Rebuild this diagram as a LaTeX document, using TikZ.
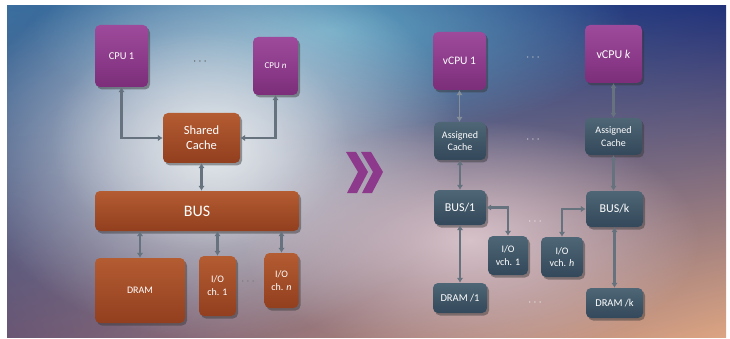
\documentclass[tikz,border=0pt]{standalone}
\usepackage{fontspec}
\setmainfont{Carlito}
\usetikzlibrary{arrows.meta,shadows,fadings,shadings}

\definecolor{cpuA}{HTML}{9E4A9C}
\definecolor{cpuB}{HTML}{7C2E7A}
\definecolor{brA}{HTML}{B45C32}
\definecolor{brB}{HTML}{923F1F}
\definecolor{slA}{HTML}{4E6676}
\definecolor{slB}{HTML}{33485A}
\definecolor{arrowc}{HTML}{66737F}
\definecolor{bgUL}{HTML}{3A6E9E}
\definecolor{bgUR}{HTML}{22337A}
\definecolor{bgLL}{HTML}{6A5674}
\definecolor{bgLR}{HTML}{DCA482}
\definecolor{glowTeal}{HTML}{62A4C2}
\definecolor{glowLight}{HTML}{E2E7EB}
\definecolor{glowPink}{HTML}{D8C2CA}
\definecolor{chev}{HTML}{8E3A8C}

\tikzfading[name=glowfade, inner color=transparent!0, outer color=transparent!100]

\tikzset{
  box/.style={rounded corners=5pt, inner sep=0pt, text=white, align=center,
    drop shadow={shadow xshift=2pt, shadow yshift=-2.5pt, opacity=0.45, fill=black!80}},
  cpubox/.style={box, top color=cpuA, bottom color=cpuB},
  brbox/.style={box, top color=brA, bottom color=brB},
  slbox/.style={box, top color=slA, bottom color=slB},
  arr/.style={draw=arrowc, line width=2.1pt,
    {Latex[length=5pt,width=6.5pt]}-{Latex[length=5pt,width=6.5pt]}},
  thinarr/.style={arr, line width=1.4pt, draw=arrowc!80},
  dotsnode/.style={inner sep=0pt, font=\fontsize{12}{12}\selectfont},
  fs/.style 2 args={font=\fontsize{#1}{#2}\selectfont}
}

\begin{document}
\begin{tikzpicture}[x=1pt,y=-1pt]
\useasboundingbox (0,0) rectangle (730,339);
\fill[white] (0,0) rectangle (730,339);
\begin{scope}
  \clip (7,6) rectangle (726,337);
  \shade[upper left=bgUL, upper right=bgUR, lower left=bgLL, lower right=bgLR] (7,6) rectangle (726,337);
  \fill[glowTeal, path fading=glowfade] (330,30) ellipse (300 and 110);
  \fill[glowLight, path fading=glowfade] (215,150) ellipse (250 and 190);
  \fill[glowPink, path fading=glowfade] (470,240) ellipse (230 and 120);
  \fill[glowLight, path fading=glowfade, opacity=0.6] (200,140) ellipse (150 and 110);
\end{scope}

% chevron
\fill[chev] (346,152) -- (356,152) -- (368,172) -- (357,193) -- (347,193) -- (358,172) -- cycle;
\fill[chev] (361,152) -- (371,152) -- (383,172) -- (372,193) -- (362,193) -- (373,172) -- cycle;

% left side
\node[cpubox, minimum width=53pt, minimum height=62pt, fs={10.5}{12}] (cpu1) at (121.5,56) {CPU 1};
\node[cpubox, minimum width=45pt, minimum height=58pt, fs={9}{10}] (cpun) at (275.5,66) {CPU \textit{n}};
\node[dotsnode, text=black!70] (dl1) at (200,62) {$\cdots$};
\node[brbox, minimum width=77pt, minimum height=50pt, fs={12.5}{15}] (cache) at (201.5,138) {Shared\\Cache};
\node[brbox, minimum width=204pt, minimum height=40pt, fs={16}{18}] (bus) at (197,211) {BUS};
\node[brbox, minimum width=90pt, minimum height=65pt, fs={10}{12}] (dram) at (140,290.5) {DRAM};
\node[brbox, minimum width=37pt, minimum height=60pt, fs={10}{13}] (io1) at (217.5,286) {I/O\\ch. 1};
\node[brbox, minimum width=34pt, minimum height=55pt, fs={10}{13}] (ion) at (281.5,280.5) {I/O\\ch. \textit{n}};
\node[dotsnode, text=black!55] (dl2) at (248,282) {$\cdots$};

\draw[arr] (cpu1.south) |- (cache.west);
\draw[arr] (cpun.south) |- (cache.east);
\draw[arr] (cache.south) -- (cache.south |- bus.north);
\draw[arr] (bus.south -| dram.north) -- (dram.north);
\draw[arr] (bus.south -| io1.north) -- (io1.north);
\draw[arr] (bus.south -| ion.north) -- (ion.north);

% right side
\node[cpubox, minimum width=53pt, minimum height=58pt, fs={11.5}{13}] (vcpu1) at (459.5,61) {vCPU 1};
\node[cpubox, minimum width=57pt, minimum height=58pt, fs={12}{13}] (vcpuk) at (613.5,54) {vCPU \textit{k}};
\node[dotsnode, text=white!60!gray] (dr1) at (533,58) {$\cdots$};
\node[slbox, minimum width=52pt, minimum height=38pt, fs={10}{12.5}] (ac1) at (460,141) {Assigned\\Cache};
\node[slbox, minimum width=57pt, minimum height=37pt, fs={10}{12.5}] (ack) at (613.5,136.5) {Assigned\\Cache};
\node[dotsnode, text=white!70!gray] (dr2) at (533,140) {$\cdots$};
\node[slbox, minimum width=52pt, minimum height=35pt, fs={12}{13}] (bus1) at (460,207.5) {BUS/1};
\node[slbox, minimum width=57pt, minimum height=36pt, fs={12}{13}] (busk) at (614.5,209) {BUS/k};
\node[slbox, minimum width=40pt, minimum height=39pt, fs={10}{12.5}] (iov1) at (508,255.5) {I/O\\vch. 1};
\node[slbox, minimum width=42pt, minimum height=40pt, fs={10}{12.5}] (iovh) at (562,257) {I/O\\vch. \textit{h}};
\node[dotsnode, text=white!85!gray] (dr3) at (535,222) {$\cdots$};
\node[slbox, minimum width=54pt, minimum height=30pt, fs={10.5}{12}] (dram1) at (460,298) {DRAM /1};
\node[slbox, minimum width=57pt, minimum height=30pt, fs={10.5}{12}] (dramk) at (614.5,303) {DRAM /k};
\node[dotsnode, text=white!85!gray] (dr4) at (535,303) {$\cdots$};

\draw[thinarr] (vcpu1.south) -- (vcpu1.south |- ac1.north);
\draw[arr] (vcpuk.south) -- (vcpuk.south |- ack.north);
\draw[arr] (ac1.south) -- (ac1.south |- bus1.north);
\draw[arr] (ack.south) -- (ack.south |- busk.north);
\draw[arr] (bus1.east) -| (iov1.north);
\draw[arr] (busk.west) -| (iovh.north);
\draw[arr] (bus1.south -| dram1.north) -- (dram1.north);
\draw[arr] (busk.south -| dramk.north) -- (dramk.north);
\end{tikzpicture}
\end{document}
